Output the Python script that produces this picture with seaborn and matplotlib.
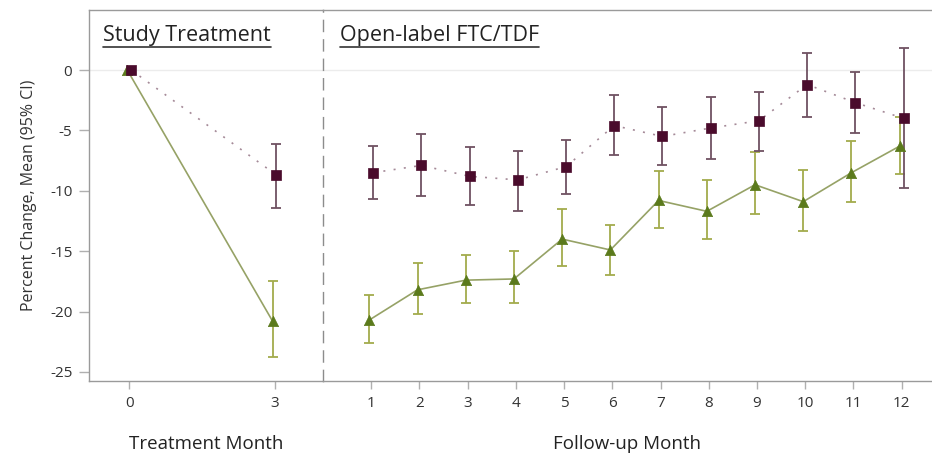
import numpy as np
import pandas as pd
import matplotlib
matplotlib.use("Agg")
import matplotlib.pyplot as plt
from matplotlib.lines import Line2D
import seaborn as sns

# ---- data -------------------------------------------------------------
study_months = [0, 3]
follow_months = [1, 2, 3, 4, 5, 6, 7, 8, 9, 10, 11, 12]

# maroon series (squares, dotted)
m_study_mean = [0.0, -8.7]
m_study_lo = [0.0, -11.4]
m_study_hi = [0.0, -6.1]
m_follow_mean = [-8.5, -7.9, -8.8, -9.1, -8.0, -4.6, -5.5, -4.8, -4.2, -1.2, -2.7, -4.0]
m_follow_lo = [-10.7, -10.4, -11.2, -11.7, -10.3, -7.0, -7.9, -7.4, -6.7, -3.9, -5.2, -9.8]
m_follow_hi = [-6.3, -5.3, -6.4, -6.7, -5.8, -2.1, -3.1, -2.2, -1.8, 1.4, -0.2, 1.8]

# green series (triangles, solid)
g_study_mean = [0.0, -20.8]
g_study_lo = [0.0, -23.8]
g_study_hi = [0.0, -17.5]
g_follow_mean = [-20.7, -18.2, -17.4, -17.3, -14.0, -14.9, -10.8, -11.7, -9.5, -10.9, -8.5, -6.3]
g_follow_lo = [-22.6, -20.2, -19.3, -19.3, -16.2, -17.0, -13.1, -14.0, -11.9, -13.3, -10.9, -8.6]
g_follow_hi = [-18.6, -16.0, -15.3, -15.0, -11.5, -12.8, -8.4, -9.1, -6.8, -8.3, -5.9, -3.9]

y_ticks = [0, -5, -10, -15, -20, -25]

# ---- style ------------------------------------------------------------
sns.set_theme(style="white")
plt.rcParams["font.family"] = ["Open Sans", "DejaVu Sans"]

MAROON = "#4a0b2c"
MAROON_LINE = "#a58a98"
MAROON_ERR = "#6f5262"
GREEN = "#5b7a1c"
GREEN_LINE = "#96a266"
GREEN_ERR = "#a3ab4c"
SPINE = "#9a9a9a"
TEXT = "#333333"

W, H = 932, 455
fig = plt.figure(figsize=(W / 100, H / 100), dpi=100)
fig.patch.set_facecolor("white")


def px_axes(x0, x1, y0, y1):
    return fig.add_axes([x0 / W, 1 - y1 / H, (x1 - x0) / W, (y1 - y0) / H])


ax_l = px_axes(89, 323, 10, 381)
ax_r = px_axes(323, 932, 10, 381)

ylim = (-25.75, 4.97)
DODGE = 0.04


def draw_series(ax, months, mean, lo, hi, offset, color, line_color, err_color,
                marker, ls, msize):
    x = np.asarray(months, dtype=float) + offset
    mean = np.asarray(mean)
    lo = np.asarray(lo)
    hi = np.asarray(hi)
    df = pd.DataFrame({"x": x, "y": mean})
    sns.lineplot(data=df, x="x", y="y", ax=ax, color=line_color,
                 linestyle=ls, linewidth=1.2, zorder=2, legend=False)
    has_ci = hi > lo
    ax.errorbar(x[has_ci], mean[has_ci],
                yerr=[mean[has_ci] - lo[has_ci], hi[has_ci] - mean[has_ci]],
                fmt="none", ecolor=err_color, elinewidth=1.3, capsize=3.8,
                capthick=1.3, zorder=3)
    sns.scatterplot(data=df, x="x", y="y", ax=ax, marker=marker, s=msize,
                    color=color, edgecolor=color, linewidth=0.5, zorder=4,
                    legend=False)


dotted = (0, (1.2, 5))

for ax in (ax_l, ax_r):
    ax.set_facecolor("white")
    ax.axhline(0, color="#ececec", lw=1.0, zorder=1)

draw_series(ax_l, study_months, g_study_mean, g_study_lo, g_study_hi, -DODGE,
            GREEN, GREEN_LINE, GREEN_ERR, "^", "-", 55)
draw_series(ax_l, study_months, m_study_mean, m_study_lo, m_study_hi, DODGE,
            MAROON, MAROON_LINE, MAROON_ERR, "s", dotted, 50)
draw_series(ax_r, follow_months, g_follow_mean, g_follow_lo, g_follow_hi, -DODGE,
            GREEN, GREEN_LINE, GREEN_ERR, "^", "-", 55)
draw_series(ax_r, follow_months, m_follow_mean, m_follow_lo, m_follow_hi, DODGE,
            MAROON, MAROON_LINE, MAROON_ERR, "s", dotted, 50)

# ---- axes -------------------------------------------------------------
ax_l.set_xlim(-0.83, 4.0)
ax_r.set_xlim(0.0, 12.63)
for ax in (ax_l, ax_r):
    ax.set_ylim(*ylim)
    for s in ax.spines.values():
        s.set_color(SPINE)
        s.set_linewidth(1.0)
    ax.spines["right"].set_visible(False)
    ax.tick_params(axis="x", which="both", bottom=True, length=6, width=1,
                   color="#b0b0b0", labelsize=11, labelcolor=TEXT, pad=5)
    ax.set_xlabel("")
    ax.set_ylabel("")

ax_l.set_xticks(study_months)
ax_l.set_xticklabels([str(m) for m in study_months])
ax_r.set_xticks(follow_months)
ax_r.set_xticklabels([str(m) for m in follow_months])

ax_l.set_yticks(y_ticks)
ax_l.set_yticklabels([str(v) for v in y_ticks])
ax_l.tick_params(axis="y", left=True, length=7, width=1, color="#b0b0b0",
                 labelsize=11, labelcolor=TEXT, pad=5)
ax_r.set_yticks([])
ax_r.spines["left"].set_linestyle((0, (8, 6)))
ax_r.spines["left"].set_color("#8c8c8c")

ax_l.set_ylabel("Percent Change, Mean (95% CI)", fontsize=11.5, color=TEXT)
ax_l.yaxis.set_label_coords(-0.222, 0.5)

fig.text(206 / W, 1 - 444 / H, "Treatment Month", ha="center", va="center",
         fontsize=13.5, color="#222222")
fig.text(627 / W, 1 - 444 / H, "Follow-up Month", ha="center", va="center",
         fontsize=13.5, color="#222222")

# ---- underlined panel headers -----------------------------------------
headers = []
headers.append(fig.text(103 / W, 1 - 35 / H, "Study Treatment", ha="left",
                        va="center", fontsize=15.5, color="#222222"))
headers.append(fig.text(340 / W, 1 - 35 / H, "Open-label FTC/TDF", ha="left",
                        va="center", fontsize=15.5, color="#222222"))

renderer = fig.canvas.get_renderer()
for t in headers:
    bb = t.get_window_extent(renderer=renderer)
    y = (bb.y0 - 1.0) / fig.bbox.height
    fig.add_artist(Line2D([bb.x0 / fig.bbox.width, bb.x1 / fig.bbox.width],
                          [y, y], color="#333333", lw=1.2,
                          transform=fig.transFigure))

fig.savefig("out.png", dpi=100, facecolor="white")
